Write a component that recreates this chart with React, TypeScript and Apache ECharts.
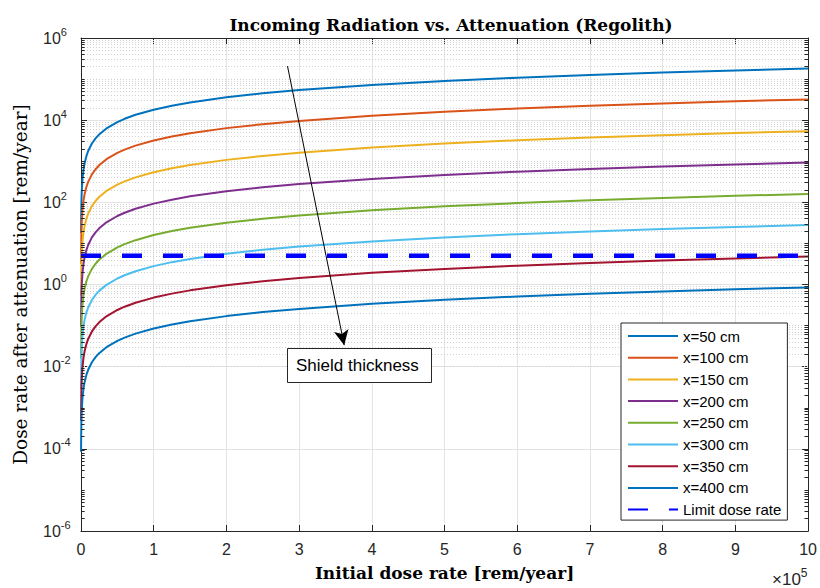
import { useEffect, useRef } from "react";
import * as echarts from "echarts";

// Initial dose rate samples, in units of 10^5 rem/year
const DOSE = [0.001, 0.002, 0.005, 0.01, 0.02, 0.035, 0.05, 0.075, 0.1, 0.15, 0.2, 0.25, 0.35, 0.5, 0.6, 0.75, 1, 1.25, 1.5, 2, 2.5, 3, 4, 5, 6, 7, 8, 9, 10];

// Dose rate after attenuation [rem/year] for each regolith thickness
const CM_50 = [18, 36, 90, 180, 360, 630, 900, 1350, 1800, 2700, 3600, 4500, 6300, 9000, 10800, 13500, 18000, 22500, 27000, 36000, 45000, 54000, 72000, 90000, 108000, 126000, 144000, 162000, 180000];
const CM_100 = [3.2, 6.4, 16, 32, 64, 112, 160, 240, 320, 480, 640, 800, 1120, 1600, 1920, 2400, 3200, 4000, 4800, 6400, 8000, 9600, 12800, 16000, 19200, 22400, 25600, 28800, 32000];
const CM_150 = [0.54, 1.08, 2.7, 5.4, 10.8, 18.9, 27, 40.5, 54, 81, 108, 135, 189, 270, 324, 405, 540, 675, 810, 1080, 1350, 1620, 2160, 2700, 3240, 3780, 4320, 4860, 5400];
const CM_200 = [0.093, 0.186, 0.465, 0.93, 1.86, 3.26, 4.65, 6.98, 9.3, 14, 18.6, 23.3, 32.6, 46.5, 55.8, 69.8, 93, 116, 140, 186, 233, 279, 372, 465, 558, 651, 744, 837, 930];
const CM_250 = [0.016, 0.032, 0.08, 0.16, 0.32, 0.56, 0.8, 1.2, 1.6, 2.4, 3.2, 4, 5.6, 8, 9.6, 12, 16, 20, 24, 32, 40, 48, 64, 80, 96, 112, 128, 144, 160];
const CM_300 = [0.0028, 0.0056, 0.014, 0.028, 0.056, 0.098, 0.14, 0.21, 0.28, 0.42, 0.56, 0.7, 0.98, 1.4, 1.68, 2.1, 2.8, 3.5, 4.2, 5.6, 7, 8.4, 11.2, 14, 16.8, 19.6, 22.4, 25.2, 28];
const CM_350 = [0.00048, 0.00096, 0.0024, 0.0048, 0.0096, 0.0168, 0.024, 0.036, 0.048, 0.072, 0.096, 0.12, 0.168, 0.24, 0.288, 0.36, 0.48, 0.6, 0.72, 0.96, 1.2, 1.44, 1.92, 2.4, 2.88, 3.36, 3.84, 4.32, 4.8];
const CM_400 = [0.000085, 0.00017, 0.000425, 0.00085, 0.0017, 0.003, 0.00425, 0.0064, 0.0085, 0.0128, 0.017, 0.0213, 0.0298, 0.0425, 0.051, 0.0638, 0.085, 0.106, 0.128, 0.17, 0.213, 0.255, 0.34, 0.425, 0.51, 0.595, 0.68, 0.765, 0.85];

const THICKNESS_NAMES = ["x=50 cm", "x=100 cm", "x=150 cm", "x=200 cm", "x=250 cm", "x=300 cm", "x=350 cm", "x=400 cm"];
const THICKNESS_VALUES = [CM_50, CM_100, CM_150, CM_200, CM_250, CM_300, CM_350, CM_400];
const COLORS = ["#0072BD", "#D95319", "#EDB120", "#7E2F8E", "#77AC30", "#4DBEEE", "#A2142F", "#0072BD"];

const LIMIT_NAME = "Limit dose rate";
const LIMIT_DOSE_RATE = 5;
const LIMIT_X = [0, 10];

// Axis ranges and tick positions
const X_MIN = 0;
const X_MAX = 10;
const X_STEP = 1;
const Y_MIN = 1e-6;
const Y_MAX = 1e6;
const Y_DECADE_STEP = 2;
const DECADES = [-6, -5, -4, -3, -2, -1, 0, 1, 2, 3, 4, 5];
const MINOR_STEPS = [1, 2, 3, 4, 5, 6, 7, 8, 9];

const SANS = "'Liberation Sans', Arial, sans-serif";
const SERIF = "'DejaVu Serif', serif";
const AXIS_COLOR = "#262626";

export default function App() {
  const ref = useRef<HTMLDivElement>(null);

  useEffect(() => {
    if (!ref.current) return;
    const chart = echarts.init(ref.current, undefined, { renderer: "svg" });

    // minor lines: every 1..9 x 10^d, except the labelled decades
    const minorValues: number[] = [];
    DECADES.forEach((d) =>
      MINOR_STEPS.forEach((m) => {
        if (m === 1 && d % Y_DECADE_STEP === 0) return;
        minorValues.push(m * Math.pow(10, d));
      })
    );

    const minorTickLen = 0.05;
    const minorTickSegments: any[] = [];
    minorValues.forEach((v) => {
      minorTickSegments.push([{ coord: [X_MIN, v] }, { coord: [X_MIN + minorTickLen, v] }]);
      minorTickSegments.push([{ coord: [X_MAX - minorTickLen, v] }, { coord: [X_MAX, v] }]);
    });

    const curveSeries = THICKNESS_NAMES.map((name, i) => ({
      name,
      type: "line",
      data: DOSE.map((d, j) => [d, THICKNESS_VALUES[i][j]]),
      symbol: "none",
      lineStyle: { color: COLORS[i], width: 2, join: "round" },
      itemStyle: { color: COLORS[i] },
      clip: true,
      z: 3,
    }));

    const logAxisBase = {
      type: "log",
      logBase: 10,
      min: Y_MIN,
      max: Y_MAX,
      interval: Y_DECADE_STEP,
    };

    const option: any = {
      animation: false,
      backgroundColor: "#ffffff",
      title: {
        text: "Incoming Radiation vs. Attenuation (Regolith)",
        left: 446,
        top: 11,
        textAlign: "center",
        textStyle: { fontFamily: SERIF, fontWeight: "bold", fontSize: 17, color: "#000" },
      },
      grid: { left: 81, right: 9, top: 38, bottom: 57, containLabel: false },
      legend: {
        orient: "vertical",
        left: 621,
        top: 323,
        data: [...THICKNESS_NAMES, LIMIT_NAME],
        itemWidth: 50,
        itemHeight: 15,
        itemGap: 6.7,
        padding: [5.5, 6, 3, 6],
        backgroundColor: "#ffffff",
        borderColor: AXIS_COLOR,
        borderWidth: 1,
        borderRadius: 0,
        selectedMode: false,
        itemStyle: { opacity: 0 },
        textStyle: { fontFamily: SANS, fontSize: 15, color: "#000", lineHeight: 15, padding: [0, 0, 0, 0] },
      },
      xAxis: [
        {
          type: "value",
          position: "bottom",
          min: X_MIN,
          max: X_MAX,
          interval: X_STEP,
          name: "Initial dose rate [rem/year]",
          nameLocation: "middle",
          nameGap: 33,
          nameTextStyle: { fontFamily: SERIF, fontWeight: "bold", fontSize: 17, color: "#000" },
          axisLine: { show: true, onZero: false, lineStyle: { color: AXIS_COLOR, width: 1 } },
          axisTick: { show: true, inside: true, length: 6, lineStyle: { color: AXIS_COLOR } },
          axisLabel: { fontFamily: SANS, fontSize: 16, color: AXIS_COLOR, margin: 10 },
          splitLine: { show: true, lineStyle: { color: "#e3e3e3", width: 1 } },
        },
        {
          type: "value",
          position: "top",
          min: X_MIN,
          max: X_MAX,
          interval: X_STEP,
          axisLine: { show: true, onZero: false, lineStyle: { color: AXIS_COLOR, width: 1 } },
          axisTick: { show: true, inside: true, length: 6, lineStyle: { color: AXIS_COLOR } },
          axisLabel: { show: false },
          splitLine: { show: false },
        },
      ],
      yAxis: [
        {
          ...logAxisBase,
          position: "left",
          name: "Dose rate after attenuation [rem/year]",
          nameLocation: "middle",
          nameGap: 51,
          nameTextStyle: { fontFamily: SERIF, fontWeight: "normal", fontSize: 18.5, color: "#000" },
          axisLine: { show: true, onZero: false, lineStyle: { color: AXIS_COLOR, width: 1 } },
          axisTick: { show: true, inside: true, length: 6, lineStyle: { color: AXIS_COLOR } },
          axisLabel: {
            showMinLabel: true,
            showMaxLabel: true,
            align: "left",
            margin: 38,
            formatter: (v: number) => `{b|10}{s|${Math.round(Math.log10(v))}}`,
            rich: {
              b: { fontFamily: SANS, fontSize: 16, color: AXIS_COLOR, lineHeight: 24 },
              s: { fontFamily: SANS, fontSize: 11, color: AXIS_COLOR, lineHeight: 11, verticalAlign: "top" },
            },
          },
          splitLine: { show: true, lineStyle: { color: "#e3e3e3", width: 1 } },
        },
        {
          ...logAxisBase,
          position: "right",
          axisLine: { show: true, onZero: false, lineStyle: { color: AXIS_COLOR, width: 1 } },
          axisTick: { show: true, inside: true, length: 6, lineStyle: { color: AXIS_COLOR } },
          axisLabel: { show: false },
          splitLine: { show: false },
        },
      ],
      series: [
        {
          name: "minor-grid",
          type: "line",
          data: [],
          silent: true,
          z: 1,
          markLine: {
            silent: true,
            z: 1,
            symbol: "none",
            label: { show: false },
            lineStyle: { color: "#d0d0d0", width: 1, type: [1, 2] },
            emphasis: { disabled: true },
            data: minorValues.map((v) => ({ yAxis: v })),
          },
        },
        ...curveSeries,
        {
          name: LIMIT_NAME,
          type: "line",
          data: LIMIT_X.map((x) => [x, LIMIT_DOSE_RATE]),
          symbol: "none",
          lineStyle: { color: "#0000FF", width: 4.5, type: [20, 21], cap: "butt" },
          itemStyle: { color: "#0000FF" },
          z: 4,
        },
        {
          name: "axes-overlay",
          type: "line",
          data: [],
          silent: true,
          z: 5,
          markLine: {
            silent: true,
            z: 5,
            symbol: "none",
            label: { show: false },
            lineStyle: { color: AXIS_COLOR, width: 1, type: "solid" },
            emphasis: { disabled: true },
            data: minorTickSegments,
          },
        },
        {
          name: "annotation-arrow",
          type: "line",
          data: [],
          silent: true,
          z: 6,
          markLine: {
            silent: true,
            z: 6,
            symbol: ["none", "arrow"],
            symbolSize: [11, 15],
            label: { show: false },
            lineStyle: { color: "#000", width: 1, type: "solid" },
            itemStyle: { color: "#000" },
            emphasis: { disabled: true },
            data: [[{ coord: [2.84, 2.07e5] }, { coord: [3.62, 0.0334] }]],
          },
        },
      ],
      graphic: [
        {
          type: "rect",
          shape: { x: 287.5, y: 348.5, width: 144, height: 34 },
          style: { fill: "#ffffff", stroke: AXIS_COLOR, lineWidth: 1 },
          z: 100,
        },
        {
          type: "text",
          x: 296,
          y: 365.5,
          style: {
            text: "Shield thickness",
            fontFamily: SANS,
            fontSize: 17,
            fill: "#000",
            verticalAlign: "middle",
            align: "left",
          },
          z: 101,
        },
        {
          type: "text",
          x: 772,
          y: 579,
          style: {
            text: "{m|×10}{s|5}",
            verticalAlign: "middle",
            align: "left",
            rich: {
              m: { fontFamily: SANS, fontSize: 17, fill: AXIS_COLOR, lineHeight: 24 },
              s: { fontFamily: SANS, fontSize: 12, fill: AXIS_COLOR, lineHeight: 12, verticalAlign: "top" },
            },
          },
          z: 101,
        },
      ],
    };

    chart.setOption(option);
    return () => chart.dispose();
  }, []);

  return (
    <div
      ref={ref}
      style={{ position: "fixed", left: 0, top: 0, width: 820, height: 588, background: "#fff" }}
    />
  );
}
